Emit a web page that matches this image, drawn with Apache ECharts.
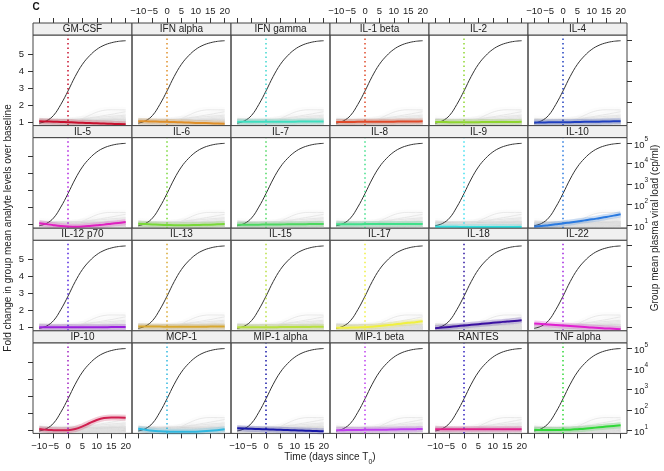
<!DOCTYPE html>
<html><head><meta charset="utf-8">
<script src="https://cdn.jsdelivr.net/npm/echarts@6.0.0/dist/echarts.min.js"></script>
<style>html,body{margin:0;padding:0;background:#fff}#c{width:664px;height:471px}</style>
</head><body><div id="c"></div>
<script>
// ---------- data ----------
const days = [-10, -7.5, -5, -2.5, 0, 2.5, 5, 7.5, 10, 12.5, 15, 17.5, 20];
const dayTicks = [-10, -5, 0, 5, 10, 15, 20];
const foldTicks = [1, 2, 3, 4, 5];
const logTicks = [1, 2, 3, 4, 5];
const analytes = ['GM-CSF','IFN alpha','IFN gamma','IL-1 beta','IL-2','IL-4',
  'IL-5','IL-6','IL-7','IL-8','IL-9','IL-10',
  'IL-12 p70','IL-13','IL-15','IL-17','IL-18','IL-22',
  'IP-10','MCP-1','MIP-1 alpha','MIP-1 beta','RANTES','TNF alpha'];
// group mean plasma viral load, log10 copies/ml
const viralLoadLog = [0.97, 1.08, 1.35, 1.88, 2.54, 3.25, 3.84, 4.26, 4.57, 4.77, 4.89, 4.96, 4.99];
// fold change per analyte
const gmCsf    = [1.04,1.03,1.02,1.00,0.99,0.97,0.96,0.94,0.93,0.91,0.90,0.88,0.87];
const ifnAlpha = [1.05,1.04,1.03,1.02,1.01,1.00,0.98,0.97,0.95,0.94,0.93,0.91,0.90];
const ifnGamma = [1.01,1.01,1.02,1.02,1.02,1.02,1.02,1.02,1.02,1.03,1.03,1.03,1.03];
const il1Beta  = [1.00,1.00,1.00,1.01,1.01,1.01,1.02,1.02,1.02,1.03,1.03,1.03,1.04];
const il2      = [1.00,1.00,0.99,0.99,0.99,0.99,0.99,1.00,1.00,1.00,1.00,1.00,1.01];
const il4      = [0.97,0.97,0.98,0.98,0.99,0.99,1.00,1.01,1.01,1.02,1.03,1.04,1.05];
const il5      = [1.08,1.03,0.97,0.92,0.89,0.88,0.89,0.92,0.96,1.00,1.05,1.10,1.15];
const il6      = [1.05,1.03,1.01,0.99,0.98,0.97,0.97,0.97,0.98,0.99,1.00,1.02,1.04];
const il7      = [1.00,1.00,1.00,1.00,1.01,1.01,1.01,1.02,1.02,1.02,1.03,1.03,1.03];
const il8      = [1.02,1.02,1.02,1.02,1.03,1.03,1.03,1.03,1.03,1.04,1.04,1.04,1.04];
const il9      = [0.87,0.87,0.87,0.87,0.86,0.86,0.86,0.86,0.86,0.86,0.86,0.86,0.86];
const il10     = [0.88,0.92,0.97,1.02,1.07,1.13,1.19,1.25,1.31,1.38,1.45,1.53,1.61];
const il12p70  = [1.00,1.00,1.00,1.00,1.00,1.00,1.00,1.00,1.00,1.00,1.01,1.01,1.01];
const il13     = [1.05,1.05,1.04,1.04,1.03,1.03,1.03,1.03,1.03,1.03,1.04,1.04,1.04];
const il15     = [1.00,1.00,1.00,1.00,1.00,1.00,1.01,1.01,1.01,1.02,1.02,1.03,1.03];
const il17     = [0.97,0.97,0.98,0.99,1.00,1.03,1.07,1.11,1.16,1.21,1.26,1.30,1.35];
const il18     = [0.94,0.98,1.02,1.06,1.10,1.14,1.18,1.22,1.26,1.30,1.34,1.37,1.41];
const il22     = [1.22,1.19,1.16,1.13,1.10,1.07,1.04,1.01,0.98,0.96,0.93,0.91,0.88];
const ip10     = [1.05,1.00,0.98,0.97,0.98,1.05,1.20,1.40,1.58,1.69,1.72,1.72,1.71];
const mcp1     = [1.06,1.00,0.95,0.92,0.90,0.88,0.88,0.88,0.89,0.91,0.94,0.98,1.03];
const mip1Alpha= [1.09,1.08,1.06,1.05,1.03,1.02,1.00,0.99,0.97,0.96,0.94,0.93,0.91];
const mip1Beta = [0.98,0.98,0.99,0.99,1.00,1.00,1.01,1.01,1.02,1.03,1.03,1.04,1.05];
const rantes   = [1.03,1.03,1.03,1.03,1.03,1.03,1.03,1.03,1.03,1.03,1.03,1.03,1.03];
const tnfAlpha = [1.00,0.99,0.99,0.99,1.00,1.01,1.04,1.07,1.11,1.15,1.19,1.23,1.27];
const curves = [gmCsf, ifnAlpha, ifnGamma, il1Beta, il2, il4,
  il5, il6, il7, il8, il9, il10,
  il12p70, il13, il15, il17, il18, il22,
  ip10, mcp1, mip1Alpha, mip1Beta, rantes, tnfAlpha];
const lineColors = ['#c8102e','#e0902a','#3fe0c0','#e04a2a','#8fd630','#1f3fbf',
  '#e020c0','#78d838','#4cd860','#40e08a','#30e0e0','#2a7ae0',
  '#9a20e0','#d8a830','#b8e040','#f0f040','#3a10a0','#e020d0',
  '#d02050','#30b8e0','#1818a8','#c040f0','#e0208a','#30d838'];
const dotColors = ['#c8102e','#e0902a','#3fd8d0','#e04a2a','#8fd630','#1f3fbf',
  '#b020e0','#78d838','#4cd860','#40e08a','#40e0f0','#2a7ae0',
  '#5020e0','#d8a830','#b8e040','#f0f040','#2a10a0','#a020e0',
  '#a020c0','#30b8e0','#1818a8','#c040f0','#3020c0','#30d838'];

// ---------- layout ----------
const FONT = '"Liberation Sans", Arial, Helvetica, sans-serif';
const colLeft = 33, colW = 99, rowTop = 23, rowH = 102.6, stripH = 12;
const xMin = -12.15, xMax = 22.2, yMin = 0.79, yMax = 6.12, lMin = 0.85, lMax = 5.27;
const minus = v => (v < 0 ? '\u2212' + (-v) : String(v));

const grid = [], xAxis = [], yAxis = [], series = [], graphic = [];
for (let i = 0; i < 24; i++) {
  const r = Math.floor(i / 6), c = i % 6;
  const top = rowTop + r * rowH;
  grid.push({left: colLeft + c * colW, top: top + stripH, width: colW, height: rowH - stripH,
    show: true, borderColor: '#444', borderWidth: 1});
  const tickStyle = {color: '#333', width: 1};
  const noLine = {show: false, onZero: false};
  xAxis.push({gridIndex: i, type: 'value', min: xMin, max: xMax, position: 'bottom',
    axisLine: noLine, splitLine: {show: false},
    axisTick: {show: r === 3, customValues: dayTicks, length: 5, lineStyle: tickStyle},
    axisLabel: {show: r === 3 && c % 2 === 0, customValues: dayTicks, formatter: minus,
      fontSize: 9.5, color: '#222', margin: 8, fontFamily: FONT}});
  xAxis.push({gridIndex: i, type: 'value', min: xMin, max: xMax, position: 'top', offset: stripH,
    axisLine: noLine, splitLine: {show: false},
    axisTick: {show: r === 0, customValues: dayTicks, length: 5, lineStyle: tickStyle},
    axisLabel: {show: r === 0 && c % 2 === 1, customValues: dayTicks, formatter: minus,
      fontSize: 9.5, color: '#222', margin: 7, fontFamily: FONT}});
  yAxis.push({gridIndex: i, type: 'value', min: yMin, max: yMax, position: 'left',
    axisLine: noLine, splitLine: {show: false},
    axisTick: {show: c === 0, customValues: foldTicks, length: 5, lineStyle: tickStyle},
    axisLabel: {show: c === 0 && r % 2 === 0, customValues: foldTicks,
      fontSize: 9.5, color: '#222', margin: 9, fontFamily: FONT}});
  yAxis.push({gridIndex: i, type: 'value', min: lMin, max: lMax, position: 'right',
    axisLine: noLine, splitLine: {show: false},
    axisTick: {show: c === 5, customValues: logTicks, length: 5, lineStyle: tickStyle},
    axisLabel: {show: c === 5 && r % 2 === 1, customValues: logTicks,
      formatter: v => '{b|10}{s|' + v + '}', margin: 7,
      rich: {b: {fontSize: 9.5, color: '#222', fontFamily: FONT, lineHeight: 14, verticalAlign: 'bottom'},
             s: {fontSize: 6.5, color: '#222', fontFamily: FONT, verticalAlign: 'top'}}}});

  // strip
  graphic.push({type: 'rect', shape: {x: colLeft + c * colW, y: top, width: colW, height: stripH},
    style: {fill: '#f0f0f0', stroke: '#444', lineWidth: 1}, z: 10});
  graphic.push({type: 'text', x: colLeft + c * colW + colW / 2, y: top + stripH / 2 + 0.5,
    style: {text: analytes[i], fill: '#222', font: '10px ' + FONT, align: 'center', verticalAlign: 'middle'}, z: 11});

  const xa = 2 * i, ya = 2 * i;
  // background: every analyte in grey
  curves.forEach((cv, j) => {
    const d = days.map((t, k) => [t, cv[k]]);
    series.push({type: 'line', xAxisIndex: xa, yAxisIndex: ya, data: d, smooth: 0.4, symbol: 'none',
      silent: true, z: 1, lineStyle: {color: 'rgba(170,170,170,0.035)', width: 6}});
    series.push({type: 'line', xAxisIndex: xa, yAxisIndex: ya, data: d, smooth: 0.4, symbol: 'none',
      silent: true, z: 2, lineStyle: {color: '#e0e0e0', width: 0.7}});
  });
  // viral load
  series.push({type: 'line', xAxisIndex: xa, yAxisIndex: ya + 1,
    data: days.map((t, k) => [t, viralLoadLog[k]]), smooth: 0.4, symbol: 'none', silent: true, z: 3,
    lineStyle: {color: '#333', width: 1}});
  // highlighted analyte
  const own = days.map((t, k) => [t, curves[i][k]]);
  series.push({type: 'line', xAxisIndex: xa, yAxisIndex: ya, data: own, smooth: 0.4, symbol: 'none',
    silent: true, z: 4, lineStyle: {color: lineColors[i], width: 6, opacity: 0.22}});
  series.push({type: 'line', xAxisIndex: xa, yAxisIndex: ya, data: own, smooth: 0.4, symbol: 'none',
    silent: true, z: 5, lineStyle: {color: lineColors[i], width: 2},
    markLine: {silent: true, symbol: 'none', label: {show: false},
      lineStyle: {color: dotColors[i], type: [1.5, 3], width: 1.5}, data: [{xAxis: 0}]}});
}

graphic.push({type: 'text', x: 36, y: 7, style: {text: 'C', fill: '#111', font: 'bold 10px ' + FONT,
  align: 'center', verticalAlign: 'middle'}});
graphic.push({type: 'text', x: 8, y: 228, rotation: Math.PI / 2,
  style: {text: 'Fold change in group mean analyte levels over baseline', fill: '#222',
    font: '10px ' + FONT, align: 'center', verticalAlign: 'middle'}});
graphic.push({type: 'text', x: 655, y: 228, rotation: Math.PI / 2,
  style: {text: 'Group mean plasma viral load (cp/ml)', fill: '#222',
    font: '10px ' + FONT, align: 'center', verticalAlign: 'middle'}});
graphic.push({type: 'text', x: 330, y: 459,
  style: {text: '{a|Time (days since T}{s|0}{a|)}', align: 'center', verticalAlign: 'middle',
    rich: {a: {fontSize: 10, fill: '#222', fontFamily: FONT, lineHeight: 13, verticalAlign: 'top'},
           s: {fontSize: 7, fill: '#222', fontFamily: FONT, verticalAlign: 'bottom'}}}});

const chart = echarts.init(document.getElementById('c'), null, {renderer: 'canvas'});
chart.setOption({animation: false, grid, xAxis, yAxis, series, graphic});
</script></body></html>
